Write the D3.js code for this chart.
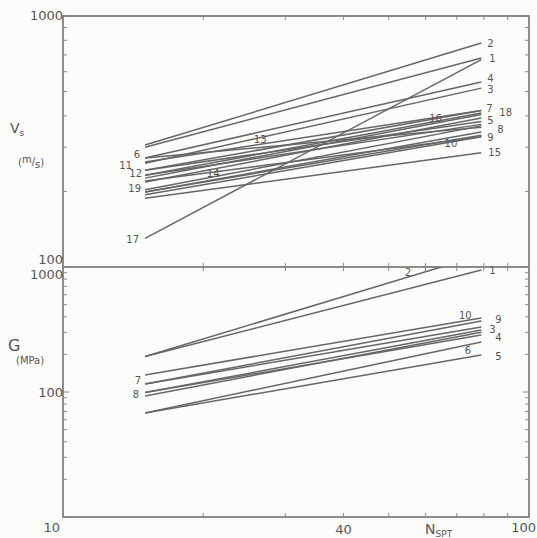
<!DOCTYPE html>
<html>
<head>
<meta charset="utf-8">
<script src="https://cdn.jsdelivr.net/npm/d3@7"></script>
<style>
  body { margin: 0; background: #fcfcfb; }
  svg { display: block; }
  text { font-family: "DejaVu Sans", sans-serif; fill: #555; }
</style>
</head>
<body>
<div id="chart"></div>
<script>
// N_SPT range used for all lines
var nRange = [15, 79];

// upper panel - shear wave velocity Vs (m/s)
var vsIds   = [2, 1, 17, 4, 3, 13, 7, 18, 16, 5, 11, 12, 14, 8, 9, 10, 19, 15, 6];
var vsStart = [306, 300, 130, 272, 259, 262, 243, 232, 226, 218, 243, 232, 220, 203, 199, 194, 199, 188, 272];
var vsEnd   = [780, 680, 670, 546, 516, 420, 420, 411, 405, 392, 380, 370, 330, 365, 335, 330, 345, 285, 360];

// lower panel - shear modulus G (MPa)
var gIds   = [1, 2, 10, 9, 7, 3, 4, 8, 6, 5];
var gStart = [192, 192, 137, 116, 116, 99, 99, 93, 68, 68];
var gEnd   = [946, 1250, 391, 370, 331, 313, 286, 300, 251, 198];

var xTicksMinor = [20, 30, 40, 50, 60, 70, 80, 90];
var vsTicks = [100, 200, 300, 400, 500, 600, 700, 800, 900, 1000];
var gTicks = [10, 20, 30, 40, 50, 60, 70, 80, 90, 100, 200, 300, 400, 500, 600, 700, 800, 900, 1000];

var W = 537, H = 538;
var pLeft = 63, pRight = 529, pTop = 16, pMid = 267, pBottom = 517;

var svg = d3.select('#chart').append('svg').attr('width', W).attr('height', H);

var x = d3.scaleLog().domain([10, 100]).range([pLeft, pRight]);
var yVs = d3.scaleLog().domain([100, 1000]).range([pMid, pTop]);
var yG = d3.scaleLog().domain([10, 1000]).range([pBottom, pMid]);

var lineColor = '#666';
var frameColor = '#666';

// label placement: where = 's' start, 'e' end, or an N value for inline labels
var vsLabels = {
  2: ['e', 6, 0], 1: ['e', 8, 0], 4: ['e', 6, -3], 3: ['e', 6, 1],
  7: ['e', 5, -2], 18: ['e', 18, 0], 5: ['e', 6, 2], 8: ['e', 16, 4],
  9: ['e', 6, 2], 15: ['e', 7, 0], 10: [68, 0, 1], 16: [63, 0, -5],
  13: [26.5, 0, -5], 14: [21, 0, 1],
  6: ['s', -5, -3], 11: ['s', -13, -5], 12: ['s', -3, -2], 19: ['s', -4, -3], 17: ['s', -6, 1]
};
var gLabels = {
  1: ['e', 8, 0], 2: [55, 0, -5], 10: [73, 0, -5], 9: ['e', 14, -1],
  3: ['e', 8, -1], 4: ['e', 14, 3], 6: [74, 0, 6], 5: ['e', 14, 2],
  7: ['s', -4, -3], 8: ['s', -6, -1]
};

svg.append('clipPath').attr('id', 'clipG')
  .append('rect').attr('x', pLeft).attr('y', pMid).attr('width', pRight - pLeft).attr('height', pBottom - pMid);

function drawPanel(ids, starts, ends, y, labels, clip) {
  var g = svg.append('g');
  var lg = g.append('g');
  if (clip) lg.attr('clip-path', 'url(#clipG)');
  var line = d3.line().x(function(d) { return x(d[0]); }).y(function(d) { return y(d[1]); });

  for (var i = 0; i < ids.length; i++) {
    var pts = [[nRange[0], starts[i]], [nRange[1], ends[i]]];
    lg.append('path').attr('d', line(pts))
      .attr('stroke', lineColor).attr('stroke-width', 1.5).attr('fill', 'none');

    var lb = labels[ids[i]];
    var lx, ly, anchor = 'start';
    if (lb[0] == 's') {
      lx = x(nRange[0]) + lb[1]; ly = y(starts[i]) + lb[2]; anchor = 'end';
    } else if (lb[0] == 'e') {
      lx = x(nRange[1]) + lb[1]; ly = y(ends[i]) + lb[2];
    } else {
      // inline label: value on the line at that N (log-log interpolation)
      var t = (Math.log(lb[0]) - Math.log(nRange[0])) / (Math.log(nRange[1]) - Math.log(nRange[0]));
      var v = Math.exp(Math.log(starts[i]) + t * (Math.log(ends[i]) - Math.log(starts[i])));
      lx = x(lb[0]) + lb[1]; ly = y(v) + lb[2]; anchor = 'middle';
    }
    g.append('text').attr('x', lx).attr('y', ly).attr('dy', '0.35em')
      .attr('text-anchor', anchor).attr('font-size', 10).text(ids[i]);
  }
}

drawPanel(vsIds, vsStart, vsEnd, yVs, vsLabels, false);
drawPanel(gIds, gStart, gEnd, yG, gLabels, true);

// frame
var fr = svg.append('g').attr('stroke', frameColor).attr('stroke-width', 1.5).attr('fill', 'none');
fr.append('rect').attr('x', pLeft).attr('y', pTop).attr('width', pRight - pLeft).attr('height', pBottom - pTop);
fr.append('line').attr('x1', pLeft).attr('x2', pRight).attr('y1', pMid).attr('y2', pMid);

// ticks
var tk = svg.append('g').attr('stroke', '#888').attr('stroke-width', 1);
function yTicks(vals, y) {
  vals.forEach(function(v) {
    var major = (Math.log10(v) % 1 === 0);
    var len = major ? 6 : 4;
    tk.append('line').attr('x1', pLeft).attr('x2', pLeft + len).attr('y1', y(v)).attr('y2', y(v));
    tk.append('line').attr('x1', pRight).attr('x2', pRight - len).attr('y1', y(v)).attr('y2', y(v));
  });
}
yTicks(vsTicks, yVs);
yTicks(gTicks, yG);
xTicksMinor.forEach(function(n) {
  var xx = x(n);
  tk.append('line').attr('x1', xx).attr('x2', xx).attr('y1', pTop).attr('y2', pTop + 4);
  tk.append('line').attr('x1', xx).attr('x2', xx).attr('y1', pMid).attr('y2', pMid - 4);
  tk.append('line').attr('x1', xx).attr('x2', xx).attr('y1', pMid).attr('y2', pMid + 4);
  tk.append('line').attr('x1', xx).attr('x2', xx).attr('y1', pBottom).attr('y2', pBottom - 4);
});

// tick labels
var tl = svg.append('g').attr('font-size', 13);
tl.append('text').attr('x', pLeft).attr('y', yVs(1000) + 4).attr('text-anchor', 'end').text('1000');
tl.append('text').attr('x', pLeft).attr('y', yVs(100) - 3).attr('text-anchor', 'end').text('100');
tl.append('text').attr('x', pLeft).attr('y', yG(1000) + 12).attr('text-anchor', 'end').text('1000');
tl.append('text').attr('x', pLeft).attr('y', yG(100) + 5).attr('text-anchor', 'end').text('100');
tl.append('text').attr('x', pLeft - 3).attr('y', pBottom + 15).attr('text-anchor', 'end').text('10');
tl.append('text').attr('x', x(40)).attr('y', pBottom + 17).attr('text-anchor', 'middle').text('40');
tl.append('text').attr('x', W - 1).attr('y', pBottom + 15).attr('text-anchor', 'end').text('100');

var nl = tl.append('text').attr('x', x(64)).attr('y', pBottom + 17).attr('text-anchor', 'middle').attr('font-size', 14);
nl.append('tspan').text('N');
nl.append('tspan').attr('font-size', 9).attr('dy', 3).text('SPT');

// axis titles
var vt = svg.append('text').attr('x', 10).attr('y', 133).attr('font-size', 14);
vt.append('tspan').text('V');
vt.append('tspan').attr('font-size', 9).attr('dy', 3).text('s');

var mt = svg.append('text').attr('x', 18).attr('y', 166).attr('font-size', 10);
mt.append('tspan').text('(');
mt.append('tspan').attr('dy', -3).text('m');
mt.append('tspan').attr('dy', 2).text('/');
mt.append('tspan').attr('dy', 3).text('s');
mt.append('tspan').attr('dy', -2).text(')');

svg.append('text').attr('x', 8).attr('y', 351).attr('font-size', 16).text('G');
svg.append('text').attr('x', 16).attr('y', 364).attr('font-size', 10).text('(MPa)');
</script>
</body>
</html>
